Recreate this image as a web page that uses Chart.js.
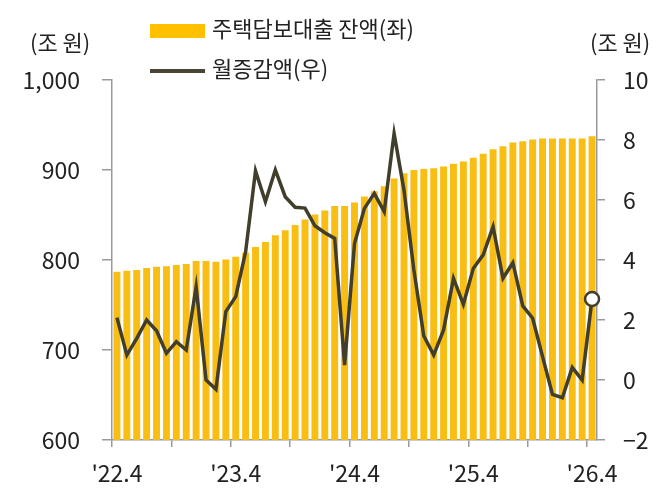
<!DOCTYPE html>
<html>
<head>
<meta charset="utf-8">
<script src="https://cdn.jsdelivr.net/npm/chart.js@4"></script>
<style>
    body { margin: 0; background: #fff; }
    #wrap { position: relative; width: 670px; height: 498px; font-family: "Noto Sans CJK KR", sans-serif; color: #222; }
    #wrap canvas { position: absolute; left: 0; top: 0; }
    .unit { position: absolute; top: 26px; font-size: 22px; line-height: 30px; }
    .leg { position: absolute; left: 150px; font-size: 22px; line-height: 30px; white-space: nowrap; }
    .leg span { display: inline-block; vertical-align: middle; margin-right: 7px; }
</style>
</head>
<body>
<div id="wrap">
    <canvas id="chart" width="670" height="498"></canvas>
    <div class="unit" style="left:30px">(조 원)</div>
    <div class="unit" style="left:590px">(조 원)</div>
    <div class="leg" style="top:12px"><span style="width:55px;height:14px;background:#FFC000"></span>주택담보대출 잔액(좌)</div>
    <div class="leg" style="top:52px"><span style="width:55px;height:4px;background:#4A4633"></span>월증감액(우)</div>
</div>
<script>
// '22.4 ~ '26.4 monthly
const months = []
for (let y = 22; y <= 26; y++)
    for (let m = 1; m <= 12; m++)
        if ((y > 22 || m >= 4) && (y < 26 || m <= 4))
            months.push(`'${y}.${m}`)

const balance = [787, 788, 789, 791, 792.5, 793, 794.5, 795.5, 799, 799, 798, 800.5,
    803.5, 808, 814.5, 820, 827.5, 833, 839, 845, 850.5, 855, 860, 860,
    864, 870.5, 876.5, 882, 890.5, 896.5, 900, 901, 902, 904, 907, 909.5,
    913.5, 918, 923, 926.5, 930.5, 932, 934, 935, 935, 935, 935, 935, 937.5]

const change = [2.08, 0.83, 1.39, 2.0, 1.64, 0.89, 1.28, 1.0, 3.11, 0.0, -0.31, 2.28,
    2.78, 4.28, 6.97, 5.94, 7.0, 6.11, 5.76, 5.73, 5.14, 4.91, 4.72, 0.5,
    4.55, 5.72, 6.22, 5.61, 8.22, 6.33, 3.67, 1.47, 0.83, 1.67, 3.39, 2.52,
    3.72, 4.17, 5.11, 3.39, 3.91, 2.47, 2.06, 0.78, -0.48, -0.59, 0.42, 0.0, 2.7]

const tickFont = { family: '"Noto Sans CJK KR", sans-serif', size: 23 }
const axisGrey = '#9a9a9a'

const pointSizes = change.map((v, i) => i === change.length - 1 ? 7 : 0)

const data = {
    labels: months,
    datasets: [{
            type: 'line',
            label: '월증감액(우)',
            data: change,
            yAxisID: 'y1',
            borderColor: '#413E2B',
            borderWidth: 3.5,
            tension: 0,
            pointRadius: pointSizes,
            pointHoverRadius: pointSizes,
            pointBackgroundColor: '#fff',
            pointBorderColor: '#413E2B',
            pointBorderWidth: 2.5,
            order: 0
        }, {
            type: 'bar',
            label: '주택담보대출 잔액(좌)',
            data: balance,
            yAxisID: 'y',
            backgroundColor: '#F9BE14',
            barPercentage: 0.7,
            categoryPercentage: 1.0,
            order: 1
        }]
}

const config = {
    data: data,
    options: {
        responsive: false,
        animation: false,
        layout: { padding: { top: 80, left: 0, right: 0, bottom: 0 } },
        plugins: { legend: { display: false }, tooltip: { enabled: false } },
        scales: {
            x: {
                offset: true,
                grid: {
                    offset: true,
                    drawOnChartArea: false,
                    tickLength: 7,
                    color: ctx => ctx.index % 6 === 0 ? axisGrey : 'transparent',
                    lineWidth: 1.5
                },
                border: { color: axisGrey, width: 1.5 },
                ticks: {
                    autoSkip: false,
                    maxRotation: 0,
                    color: '#222',
                    font: tickFont,
                    padding: 12,
                    callback: (v, i) => i % 12 === 0 ? months[i] : ''
                },
                afterFit: s => { s.height = 58 }
            },
            y: {
                position: 'left',
                min: 600,
                max: 1000,
                grid: { drawOnChartArea: false, tickLength: 10, color: axisGrey, lineWidth: 1.5 },
                border: { color: axisGrey, width: 1.5 },
                ticks: {
                    stepSize: 100,
                    color: '#222',
                    font: tickFont,
                    padding: 22,
                    callback: v => v.toLocaleString('en-US')
                },
                afterFit: s => { s.width = 112 }
            },
            y1: {
                position: 'right',
                min: -2,
                max: 10,
                grid: { drawOnChartArea: false, tickLength: 8, color: axisGrey, lineWidth: 1.5 },
                border: { color: axisGrey, width: 1.5 },
                ticks: {
                    stepSize: 2,
                    color: '#222',
                    font: tickFont,
                    padding: 18,
                    callback: v => v < 0 ? '\u2212' + Math.abs(v) : v
                },
                afterFit: s => { s.width = 73 }
            }
        }
    }
}

let ctx = document.getElementById('chart').getContext('2d')
new Chart(ctx, config)
</script>
</body>
</html>
